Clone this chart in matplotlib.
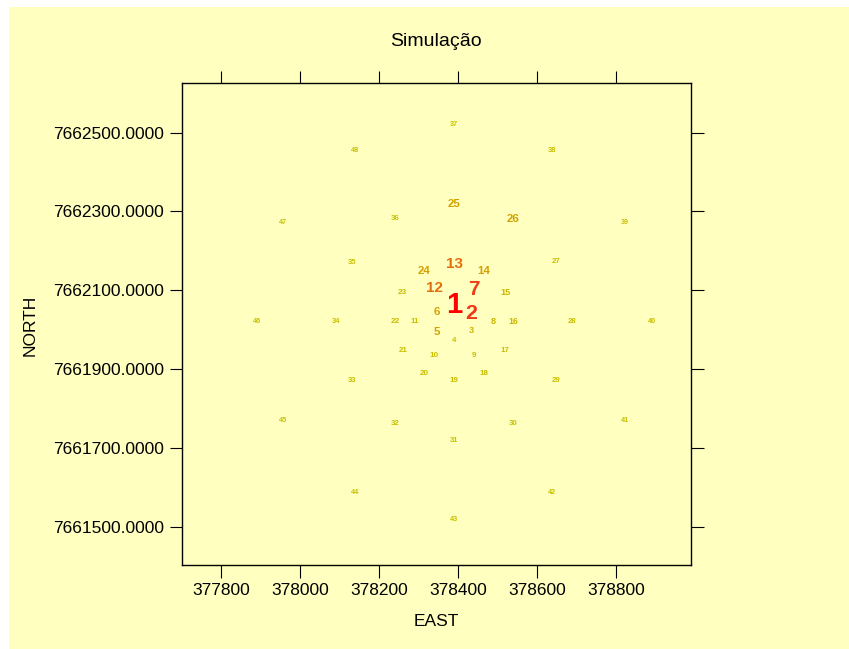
#!/usr/bin/env python3
"""Simulação: point labels over EAST/NORTH coordinates, sized and coloured by value."""

import matplotlib

matplotlib.use("Agg")
import matplotlib.pyplot as plt
from matplotlib.colors import LinearSegmentedColormap
from matplotlib.patches import Rectangle

plt.rcParams["font.family"] = ["Liberation Sans", "DejaVu Sans"]

BG = "#FFFFC0"
INK = "#000000"

# point ids (drawn as the labels)
LABELS = list(range(1, 49))

EAST = [
    378389, 378433, 378433, 378389, 378345, 378345, 378440, 378489,
    378440, 378339, 378290, 378339, 378390, 378465, 378519, 378539,
    378519, 378464, 378389, 378314, 378259, 378240, 378259, 378314,
    378389, 378539, 378647, 378688, 378648, 378539, 378388, 378239,
    378130, 378090, 378130, 378239, 378388, 378638, 378822, 378891,
    378822, 378638, 378388, 378139, 377956, 377890, 377956, 378139,
]

NORTH = [
    7662063, 7662040, 7661997, 7661972, 7661995, 7662045, 7662103, 7662021,
    7661935, 7661935, 7662022, 7662105, 7662168, 7662150, 7662095, 7662020,
    7661946, 7661889, 7661872, 7661889, 7661946, 7662022, 7662095, 7662149,
    7662320, 7662281, 7662172, 7662022, 7661872, 7661761, 7661719, 7661761,
    7661872, 7662022, 7662171, 7662281, 7662521, 7662454, 7662273, 7662022,
    7661770, 7661587, 7661519, 7661587, 7661770, 7662022, 7662273, 7662455,
]

# simulated value at each point (relative, 0..1)
VALUE = [
    1.00, 0.66, 0.14, 0.09, 0.24, 0.24, 0.63, 0.14,
    0.09, 0.09, 0.09, 0.40, 0.40, 0.24, 0.14, 0.13,
    0.09, 0.09, 0.09, 0.09, 0.09, 0.10, 0.10, 0.24,
    0.24, 0.24, 0.08, 0.08, 0.08, 0.08, 0.075, 0.08,
    0.075, 0.075, 0.075, 0.08, 0.065, 0.075, 0.06, 0.06,
    0.06, 0.06, 0.06, 0.06, 0.06, 0.06, 0.06, 0.06,
]

X_TICKS = [377800, 378000, 378200, 378400, 378600, 378800]
Y_TICKS = [7661500, 7661700, 7661900, 7662100, 7662300, 7662500]

cmap = LinearSegmentedColormap.from_list(
    "heat",
    [(0.0, "#C8C000"), (0.08, "#C8C000"), (0.24, "#D4A000"), (0.40, "#E07010"),
     (0.66, "#F03818"), (1.0, "#FF0000")],
)


def main():
    fig = plt.figure(figsize=(8.49, 6.49), dpi=100, facecolor="white")
    fig.patches.append(Rectangle((9 / 849, 0), 1 - 9 / 849, 1 - 7 / 649,
                                 transform=fig.transFigure, facecolor=BG,
                                 edgecolor="none", zorder=-10))

    ax = fig.add_axes([182 / 849, 84 / 649, 509 / 849, 482 / 649])
    ax.set_facecolor(BG)

    for lab, x, y, v in zip(LABELS, EAST, NORTH, VALUE):
        ax.text(x, y, str(lab), ha="center", va="center",
                fontsize=4.2 + 17 * v, fontweight="bold", color=cmap(v))

    ax.set_xlim(377700, 378989)
    ax.set_ylim(7661403, 7662626)
    ax.set_xticks(X_TICKS)
    ax.set_yticks(Y_TICKS)
    ax.set_yticklabels([f"{t:.4f}" for t in Y_TICKS])
    ax.tick_params(direction="out", length=9, width=0.8, colors=INK,
                   labelsize=12.5, pad=4, top=True, right=True)
    for spine in ax.spines.values():
        spine.set_color(INK)
        spine.set_linewidth(1.0)

    fig.text(436 / 849, 1 - 42 / 649, "Simulação", ha="center", va="center",
             fontsize=14, color=INK)
    fig.text(436 / 849, 1 - 621 / 649, "EAST", ha="center", va="center",
             fontsize=12.5, color=INK)
    fig.text(30 / 849, 1 - 325 / 649, "NORTH", ha="center", va="center",
             rotation=90, fontsize=12.5, color=INK)

    fig.savefig("out.png", dpi=100, facecolor="white")


if __name__ == "__main__":
    main()
